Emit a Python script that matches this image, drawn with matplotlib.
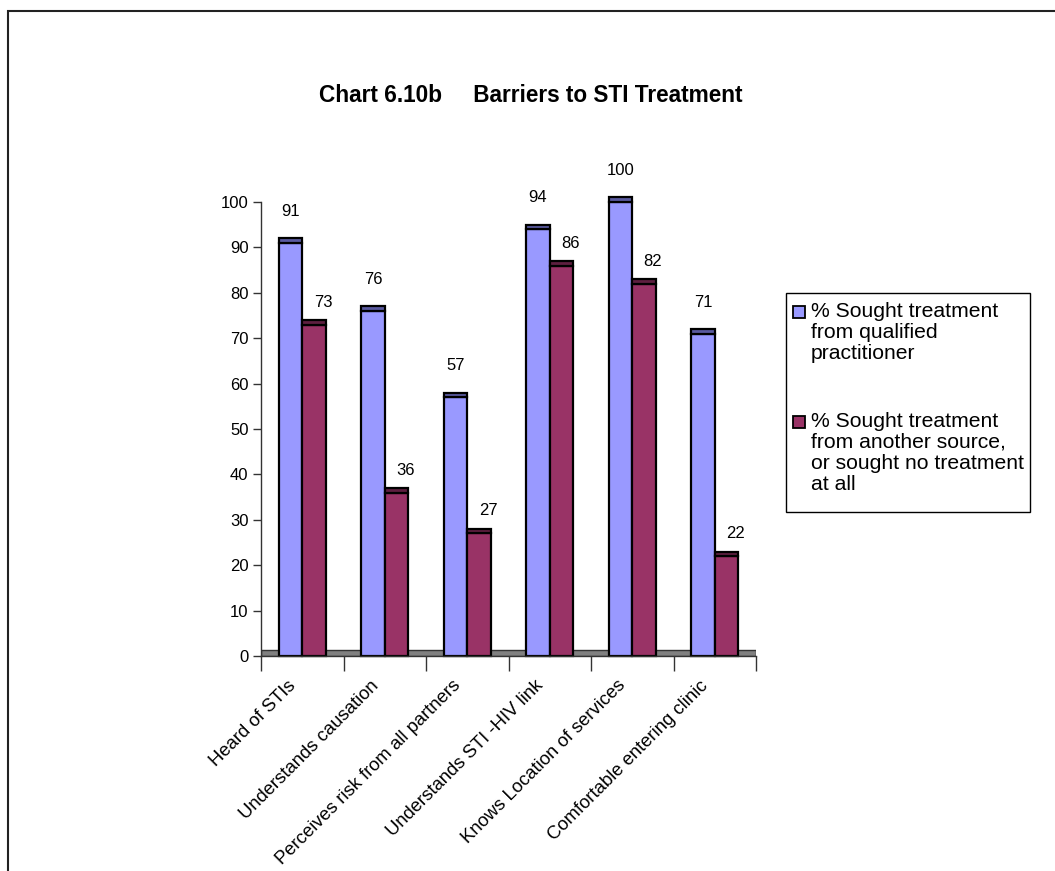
import numpy as np
import matplotlib
matplotlib.use('Agg')
import matplotlib.pyplot as plt
from matplotlib.patches import Rectangle
from matplotlib.transforms import ScaledTranslation


categories = ['Heard of STIs', 'Understands causation',
              'Perceives risk from all partners', 'Understands STI -HIV link',
              'Knows Location of services', 'Comfortable entering clinic']
qualified = [91, 76, 57, 94, 100, 71]
other = [73, 36, 27, 86, 82, 22]
series_names = ['% Sought treatment\nfrom qualified\npractitioner',
                '% Sought treatment\nfrom another source,\nor sought no treatment\nat all']
title = 'Chart 6.10b     Barriers to STI Treatment'
yticks = np.arange(0, 101, 10)

face_colors = ['#9999ff', '#993366']
top_colors = ['#5a5aa0', '#5e1f40']

W, H = 1055, 871
plt.rcParams['font.family'] = ['Liberation Sans', 'DejaVu Sans']


def fx(px):
    return px / W


def fy(py):
    return 1 - py / H


fig = plt.figure(figsize=(W / 100, H / 100), dpi=100)

# outer chart frame, runs off the right and bottom edges
fig.add_artist(Rectangle((fx(8), -0.5), 2, fy(11) + 0.5, transform=fig.transFigure,
                         fill=False, lw=1.5, ec='#222222'))

fig.text(fx(531), fy(96), title, ha='center', va='center',
         fontsize=16.3, fontweight='bold')

ax = fig.add_axes([fx(261), fy(656), fx(756) - fx(261), fy(202) - fy(656)])
x = np.arange(len(categories))
w = 0.285
cap = 1.0

# floor of the 3d plot
ax.axhspan(0, 1.4, fc='#808080', ec='#333333', lw=1, zorder=1)

for i, vals in enumerate([qualified, other]):
    pos = x + (i - 0.5) * w
    ax.bar(pos, vals, w, color=face_colors[i], edgecolor='black', lw=1.6, zorder=2,
           clip_on=False)
    ax.bar(pos, cap, w, bottom=vals, color=top_colors[i], edgecolor='black', lw=1.6,
           zorder=2, clip_on=False)
    dx, dy = (0, 27) if i == 0 else (9, 18)
    for p, v in zip(pos, vals):
        ax.annotate(str(v), xy=(p, v + cap), xytext=(dx, dy), textcoords='offset pixels',
                    ha='center', va='center', fontsize=12, annotation_clip=False)

ax.set_xlim(-0.5, len(categories) - 0.5)
ax.set_ylim(0, 100)
ax.set_yticks(yticks)
ax.tick_params(axis='y', length=6, width=1, color='#333333', labelsize=12, pad=3)

ax.set_xticks(x)
ax.set_xticklabels(categories, rotation=45, ha='right', va='center',
                   rotation_mode='anchor', fontsize=13.3)
ax.set_xticks(np.arange(-0.5, len(categories)), minor=True)
ax.tick_params(axis='x', which='major', length=0, pad=19.5)
ax.tick_params(axis='x', which='minor', length=11, width=1, color='#333333')
shift = ScaledTranslation(-9 / 100, 0, fig.dpi_scale_trans)
for lab in ax.get_xticklabels():
    lab.set_transform(lab.get_transform() + shift)

for s in ['top', 'right']:
    ax.spines[s].set_visible(False)
for s in ['left', 'bottom']:
    ax.spines[s].set_color('#333333')
    ax.spines[s].set_linewidth(1)

# legend, laid out by hand
fig.add_artist(Rectangle((fx(786), fy(512)), fx(1030) - fx(786), fy(293) - fy(512),
                         transform=fig.transFigure, fill=False, lw=1, ec='black'))
for i, (name, top) in enumerate(zip(series_names, [302, 412])):
    fig.add_artist(Rectangle((fx(793), fy(top + 16)), fx(12), fy(0) - fy(12),
                             transform=fig.transFigure, fc=face_colors[i],
                             ec='black', lw=1.3))
    fig.text(fx(811), fy(top), name, ha='left', va='top', fontsize=15.2,
             linespacing=1.13)

fig.savefig('out.png', dpi=100)
